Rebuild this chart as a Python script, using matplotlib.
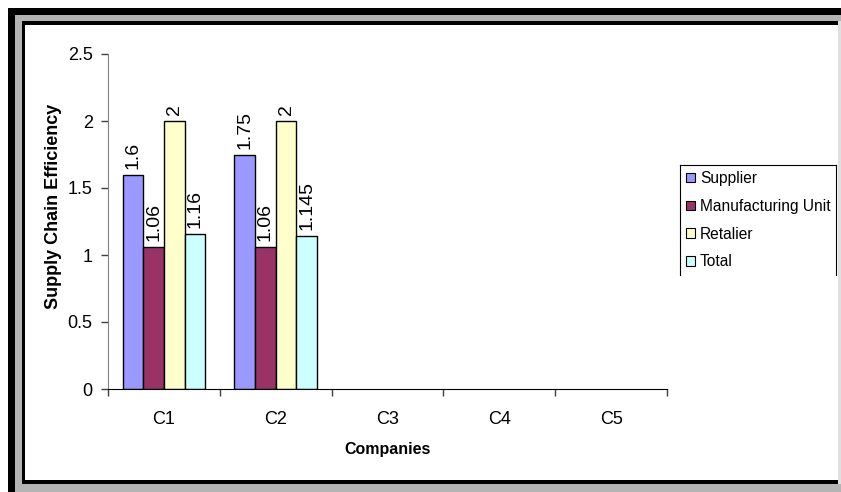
import numpy as np
import matplotlib
matplotlib.use("Agg")
import matplotlib.pyplot as plt
from matplotlib.patches import Rectangle, Patch
from matplotlib.lines import Line2D

plt.rcParams['font.family'] = ['Liberation Sans', 'DejaVu Sans']

companies = ["C1", "C2", "C3", "C4", "C5"]
series_names = ["Supplier", "Manufacturing Unit", "Retalier", "Total"]
supplier = [1.6, 1.75, None, None, None]
manufacturing = [1.06, 1.06, None, None, None]
retailer = [2, 2, None, None, None]
total = [1.16, 1.145, None, None, None]
colors = ["#9999FF", "#993366", "#FFFFCC", "#CCFFFF"]
yticks = [0, 0.5, 1, 1.5, 2, 2.5]

W, H = 841, 492
fig = plt.figure(figsize=(W / 100, H / 100), dpi=100)
fig.patch.set_facecolor("white")


def prect(x0, y0, x1, y1, color, z):
    # pixel coords from top-left
    r = Rectangle((x0 / W, 1 - y1 / H), (x1 - x0) / W, (y1 - y0) / H,
                  transform=fig.transFigure, facecolor=color, edgecolor="none",
                  zorder=z)
    fig.add_artist(r)


# frame
prect(8, 8, 841, 492, "black", -10)
prect(15, 15, 841, 492, "#b4b4b4", -9)
prect(22, 21, 838, 484, "black", -8)
prect(25, 25, 838, 480, "white", -7)
prect(838, 21, 841, 484, "#e0e0e0", -7)

ax = fig.add_axes([108 / W, 103 / H, (667 - 108) / W, (389 - 54) / H])
ax.set_facecolor("none")

x = np.arange(len(companies))
width = 0.185
data = [supplier, manufacturing, retailer, total]
for i, (vals, c) in enumerate(zip(data, colors)):
    v = np.array([np.nan if a is None else a for a in vals], dtype=float)
    pos = x + (i - 1.5) * width
    ax.bar(pos, v, width, color=c, edgecolor="black", linewidth=1.0,
           label=series_names[i], zorder=2)
    for px, pv in zip(pos, v):
        if np.isfinite(pv):
            ax.annotate(f"{pv:g}", (px, pv), xytext=(0, 4),
                        textcoords="offset points", rotation=90,
                        ha="center", va="bottom", fontsize=14)

ax.set_xlim(-0.5, len(companies) - 0.5)
ax.set_ylim(0, 2.5)
ax.set_yticks(yticks)
ax.set_yticklabels([f"{t:g}" for t in yticks], fontsize=13)
ax.set_xticks(np.arange(-0.5, len(companies), 1.0))
ax.set_xticklabels([])
ax.set_xticks(x, minor=True)
ax.set_xticklabels(companies, minor=True, fontsize=13)
ax.tick_params(axis="x", which="minor", length=0, pad=16)
ax.tick_params(axis="x", which="major", length=5, width=1, color="#404040")
ax.tick_params(axis="y", length=5, width=1, pad=6, color="#404040")
for s in ["top", "right"]:
    ax.spines[s].set_visible(False)
ax.spines["left"].set_color("#808080")
ax.spines["bottom"].set_color("black")
ax.set_xlabel("Companies", fontsize=11.5, fontweight="bold", labelpad=10)
ax.set_ylabel("Supply Chain Efficiency", fontsize=13, fontweight="bold")
ax.yaxis.set_label_coords(-0.082, 0.545)

handles = [Patch(facecolor=c, edgecolor="black", linewidth=0.8) for c in colors]
leg = fig.legend(handles, series_names, loc="upper left",
                 bbox_to_anchor=(683 / W, 1 - 168 / H), frameon=False,
                 borderaxespad=0, borderpad=0.2, fontsize=11.2,
                 handlelength=0.55, handleheight=0.55, handletextpad=0.35,
                 labelspacing=0.82)

# legend box (left, top, right edges)
lx0, lx1, ly0, ly1 = 680 / W, 836 / W, 1 - 165 / H, 1 - 275 / H
for xs, ys in [([lx0, lx0], [ly1, ly0]), ([lx0, lx1], [ly0, ly0]),
               ([lx1, lx1], [ly0, ly1])]:
    fig.add_artist(Line2D(xs, ys, transform=fig.transFigure, color="black",
                          linewidth=0.8))

fig.savefig("out.png", dpi=100)
